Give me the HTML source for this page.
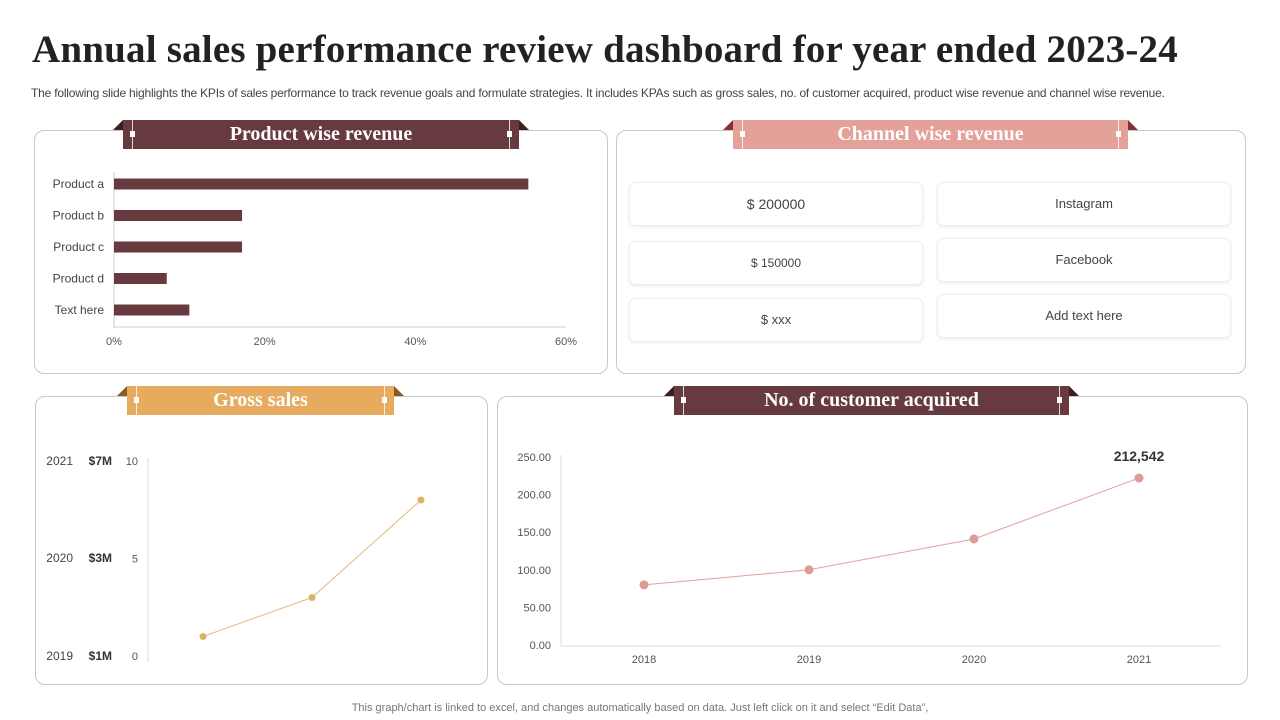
<!DOCTYPE html>
<html><head><meta charset="utf-8">
<style>
body{margin:0;width:1280px;height:720px;background:#fff;font-family:"Liberation Sans",sans-serif;position:relative;overflow:hidden}
.abs{position:absolute}
h1{position:absolute;left:32px;top:27px;margin:0;font-family:"Liberation Serif",serif;font-size:39px;font-weight:bold;color:#222;letter-spacing:0.2px;white-space:nowrap}
.sub{left:31px;top:86px;font-size:12px;color:#444;white-space:nowrap;letter-spacing:-0.2px}
.panel{position:absolute;border:1px solid #c8c8c8;border-radius:10px;background:#fff}
.ribbon{position:absolute;height:29px;color:#fff;font-family:"Liberation Serif",serif;font-weight:bold;font-size:20px;text-align:center;line-height:28px}
.ribbon .l,.ribbon .r{position:absolute;top:0;width:0;height:0;border-bottom:10px solid}
.ribbon .l{left:-10px;border-left:10px solid transparent}
.ribbon .r{right:-10px;border-right:10px solid transparent}
.ribbon .ln{position:absolute;top:0;bottom:0;width:1px;background:rgba(255,255,255,.8)}
.ribbon .dot{position:absolute;top:11px;width:5px;height:6px;background:#fff}
.box{position:absolute;width:292px;height:42px;border:1px solid #eee;border-radius:6px;box-shadow:0 1px 3px rgba(0,0,0,.08);text-align:center;line-height:42px;font-size:13px;color:#444}
svg text{font-family:"Liberation Sans",sans-serif}
.foot{left:0;width:1280px;top:702px;text-align:center;font-size:11px;color:#777}
</style></head><body>
<h1>Annual sales performance review dashboard for year ended 2023-24</h1>
<div class="abs sub">The following slide highlights the KPIs of sales performance to track revenue goals and formulate strategies. It includes KPAs such as gross sales, no. of customer acquired, product wise revenue and channel wise revenue.</div>

<div class="panel" style="left:34px;top:130px;width:572px;height:242px"></div>
<div class="panel" style="left:616px;top:130px;width:628px;height:242px"></div>
<div class="panel" style="left:35px;top:396px;width:451px;height:287px"></div>
<div class="panel" style="left:497px;top:396px;width:749px;height:287px"></div>

<div class="ribbon" style="left:123px;top:120px;width:396px;background:#673a40"><span class="l" style="border-bottom-color:#3a1e22"></span><span class="r" style="border-bottom-color:#3a1e22"></span><span class="ln" style="left:9px"></span><span class="ln" style="right:9px"></span><span class="dot" style="left:7px"></span><span class="dot" style="right:7px"></span>Product wise revenue</div>
<div class="ribbon" style="left:733px;top:120px;width:395px;background:#e3a19a"><span class="l" style="border-bottom-color:#8a3030"></span><span class="r" style="border-bottom-color:#8a3030"></span><span class="ln" style="left:9px"></span><span class="ln" style="right:9px"></span><span class="dot" style="left:7px"></span><span class="dot" style="right:7px"></span>Channel wise revenue</div>
<div class="ribbon" style="left:127px;top:386px;width:267px;background:#e6ab5e"><span class="l" style="border-bottom-color:#8a5a1e"></span><span class="r" style="border-bottom-color:#8a5a1e"></span><span class="ln" style="left:9px"></span><span class="ln" style="right:9px"></span><span class="dot" style="left:7px"></span><span class="dot" style="right:7px"></span>Gross sales</div>
<div class="ribbon" style="left:674px;top:386px;width:395px;background:#673a40"><span class="l" style="border-bottom-color:#3a1e22"></span><span class="r" style="border-bottom-color:#3a1e22"></span><span class="ln" style="left:9px"></span><span class="ln" style="right:9px"></span><span class="dot" style="left:7px"></span><span class="dot" style="right:7px"></span>No. of customer acquired</div>

<div class="box" style="left:629px;top:182px;font-size:14px">$ 200000</div>
<div class="box" style="left:629px;top:241px;font-size:12px">$ 150000</div>
<div class="box" style="left:629px;top:298px">$ xxx</div>
<div class="box" style="left:937px;top:182px">Instagram</div>
<div class="box" style="left:937px;top:238px">Facebook</div>
<div class="box" style="left:937px;top:294px">Add text here</div>

<svg class="abs" style="left:0;top:0" width="1280" height="720" id="charts"></svg>
<div class="abs foot">This graph/chart is linked to excel,  and changes automatically based on data. Just left click on it and select “Edit Data”,</div>

<script>
const barCats=["Product  a","Product b","Product c","Product d","Text here"];
const barVals=[55,17,17,7,10];
const barTicks=[0,20,40,60];
const gsYears=["2019","2020","2021"];
const gsLabels=["$1M","$3M","$7M"];
const gsVals=[1,3,8];
const gsTicks=[0,5,10];
const custYears=["2018","2019","2020","2021"];
const custVals=[80,100,141,222];
const custTicks=[0,50,100,150,200,250];
const custLabel="212,542";

const svg=document.getElementById('charts');
const NS='http://www.w3.org/2000/svg';
function mk(t,a,txt){const e=document.createElementNS(NS,t);for(const k in a)e.setAttribute(k,a[k]);if(txt!=null)e.textContent=txt;svg.appendChild(e);return e;}

const bx=v=>114+v*(566-114)/60;
const by=i=>184+i*31.5;
let e=mk('line',{x1:114,y1:172,x2:114,y2:328,stroke:'#ccc'});
e=mk('line',{x1:114,y1:327,x2:566,y2:327,stroke:'#ccc'});
barCats.forEach((c,i)=>{
  let r=mk('rect',{x:bx(0),y:by(i)-5.5,width:bx(barVals[i])-bx(0),height:11,fill:'#673a40'});
  
  let t=mk('text',{x:104,y:by(i)+4,'text-anchor':'end','font-size':12,fill:'#444'},c);
  
});
barTicks.forEach(v=>{let t=mk('text',{x:bx(v),y:345,'text-anchor':'middle','font-size':11,fill:'#555'},v+'%');
  });

const gy=v=>656-v*(656-461)/10;
const gx=i=>203+i*109;
e=mk('line',{x1:148,y1:458,x2:148,y2:662,stroke:'#ddd'});
gsTicks.forEach(v=>{let t=mk('text',{x:138,y:gy(v)+4,'text-anchor':'end','font-size':11,fill:'#555'},v);
  });
gsYears.forEach((y,i)=>{let ty=[656,558,461][i];
  let t=mk('text',{x:73,y:ty+4,'text-anchor':'end','font-size':12,fill:'#444'},y);
  t=mk('text',{x:112,y:ty+4,'text-anchor':'end','font-size':12,'font-weight':'bold',fill:'#333'},gsLabels[i]);});
e=mk('polyline',{points:gsVals.map((v,i)=>gx(i)+','+gy(v)).join(' '),fill:'none',stroke:'#e6b87a','stroke-width':1});

gsVals.forEach((v,i)=>{let c=mk('circle',{cx:gx(i),cy:gy(v),r:3.5,fill:'#e0b06a'});});

const cy=v=>645-v*(645-457)/250;
const cx=i=>644+i*165;
e=mk('line',{x1:561,y1:455,x2:561,y2:646,stroke:'#ddd'});
e=mk('line',{x1:561,y1:646,x2:1221,y2:646,stroke:'#ddd'});
custTicks.forEach(v=>{let t=mk('text',{x:551,y:cy(v)+4,'text-anchor':'end','font-size':11,fill:'#555'},v.toFixed(2));
  });
custYears.forEach((y,i)=>{let t=mk('text',{x:cx(i),y:663,'text-anchor':'middle','font-size':11,fill:'#555'},y);
  });
e=mk('polyline',{points:custVals.map((v,i)=>cx(i)+','+cy(v)).join(' '),fill:'none',stroke:'#e3a19a','stroke-width':1});

custVals.forEach((v,i)=>{let c=mk('circle',{cx:cx(i),cy:cy(v),r:4.5,fill:'#dc9c95'});});
e=mk('text',{x:cx(3),y:cy(custVals[3])-17,'text-anchor':'middle','font-size':14,'font-weight':'bold',fill:'#333'},custLabel);

</script>
</body></html>
